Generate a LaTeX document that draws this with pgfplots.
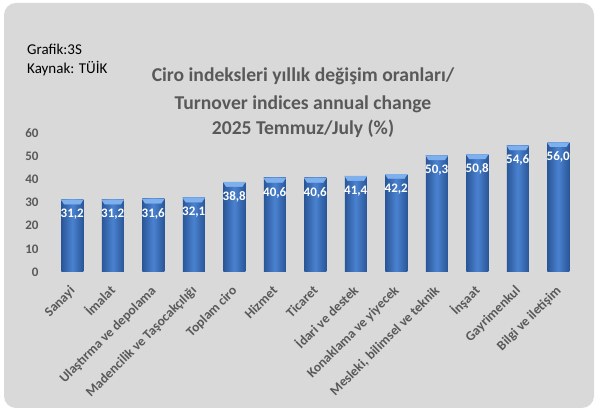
\documentclass[border=0pt]{standalone}
\usepackage{pgfplots}
\pgfplotsset{compat=1.18}
\usepackage{fontspec}
\setmainfont{Carlito}
\definecolor{bg}{HTML}{D9D9D9}
\definecolor{txt}{HTML}{595959}
\definecolor{barmid}{HTML}{4A82D0}
\definecolor{bardark}{HTML}{2A5698}
\definecolor{bevel}{HTML}{7FB0EE}
\pgfdeclareplotmark{bevel}{%
  \fill[bevel] (-11pt,0pt) -- (11pt,0pt) -- (8pt,-4.5pt) -- (-8pt,-4.5pt) -- cycle;}
\pgfplotsset{mybar/.style={draw=none, bar shift=0pt, left color=bardark, right color=bardark, middle color=barmid}}
\begin{document}
\begin{tikzpicture}[x=1pt,y=1pt]
\path[use as bounding box] (0,0) rectangle (597,411);
\fill[bg, rounded corners=12pt] (4,3) rectangle (594,408);
\node[anchor=base west, inner sep=0pt, font=\fontsize{15}{17}\selectfont] at (27,356) {Grafik:3S};
\node[anchor=base west, inner sep=0pt, font=\fontsize{15}{17}\selectfont] at (27,337) {Kaynak: TÜİK};
\node[anchor=base, inner sep=0pt, text=txt, font=\bfseries\fontsize{19.6}{22}\selectfont] at (303,329) {Ciro indeksleri yıllık değişim oranları/};
\node[anchor=base, inner sep=0pt, text=txt, font=\bfseries\fontsize{19.6}{22}\selectfont] at (303,301) {Turnover indices annual change};
\node[anchor=base, inner sep=0pt, text=txt, font=\bfseries\fontsize{19.6}{22}\selectfont] at (303,276) {2025 Temmuz/July (\%)};
\begin{axis}[
  at={(52pt,139pt)}, anchor=south west,
  scale only axis, width=526.5pt, height=139pt,
  xmin=-0.5, xmax=12.5, ymin=0, ymax=60,
  ytick={0,10,...,60},
  xtick={0,...,12},
  xticklabels={Sanayi,İmalat,Ulaştırma ve depolama,Madencilik ve Taşocakçılığı,Toplam ciro,Hizmet,Ticaret,İdari ve destek,Konaklama ve yiyecek,{Mesleki, bilimsel ve teknik},İnşaat,Gayrimenkul,Bilgi ve iletişim},
  axis line style={draw=none},
  major tick length=0pt,
  /pgf/number format/assume math mode=true,
  tick label style={text=txt, font=\bfseries\fontsize{13}{15}\selectfont},
  yticklabel style={anchor=east, xshift=-10pt},
  xticklabel style={xshift=1.7pt, yshift=-17.7pt, rotate=45, anchor=east, inner sep=0pt, text height=0.75em, text depth=0.25em, font=\bfseries\fontsize{13.5}{16}\selectfont},
  ybar, bar width=22pt, bar shift=0pt,
  clip=false,
]
\addplot[mybar] coordinates {(0,31.2)};
\addplot[mybar] coordinates {(1,31.2)};
\addplot[mybar] coordinates {(2,31.6)};
\addplot[mybar] coordinates {(3,32.1)};
\addplot[mybar] coordinates {(4,38.8)};
\addplot[mybar] coordinates {(5,40.6)};
\addplot[mybar] coordinates {(6,40.6)};
\addplot[mybar] coordinates {(7,41.4)};
\addplot[mybar] coordinates {(8,42.2)};
\addplot[mybar] coordinates {(9,50.3)};
\addplot[mybar] coordinates {(10,50.8)};
\addplot[mybar] coordinates {(11,54.6)};
\addplot[mybar] coordinates {(12,56.0)};
\addplot[only marks, mark=bevel, bar shift=0pt,
  nodes near coords={\pgfmathprintnumber[fixed,fixed zerofill,precision=1,use comma]{\pgfplotspointmeta}},
  every node near coord/.style={anchor=north, yshift=-6pt, text=white, font=\bfseries\fontsize{13}{15}\selectfont}]
  coordinates {(0,31.2) (1,31.2) (2,31.6) (3,32.1) (4,38.8) (5,40.6) (6,40.6) (7,41.4) (8,42.2) (9,50.3) (10,50.8) (11,54.6) (12,56.0)};
\end{axis}
\end{tikzpicture}
\end{document}
